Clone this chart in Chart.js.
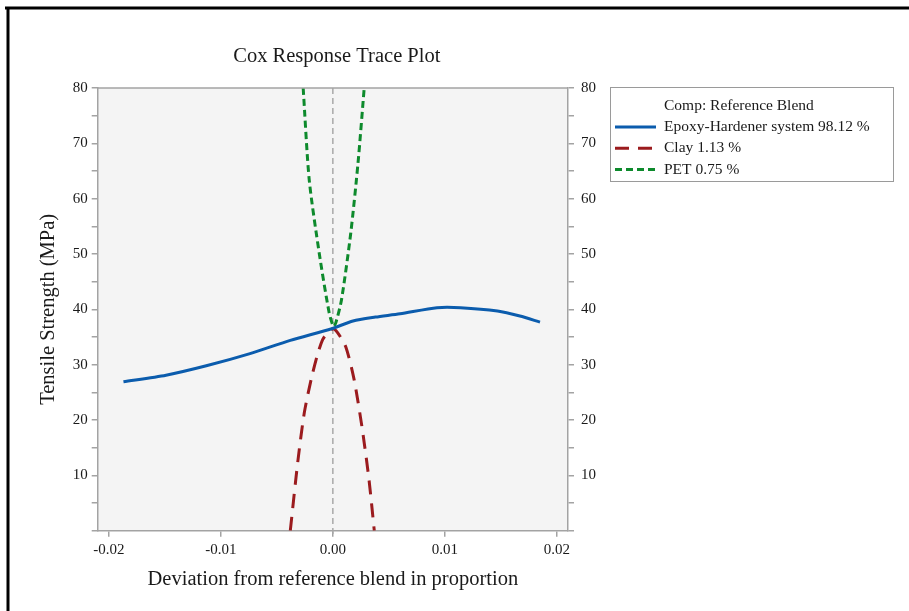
<!DOCTYPE html>
<html>
<head>
<meta charset="utf-8">
<script src="https://cdn.jsdelivr.net/npm/chart.js@4"></script>
<style>
  html, body { margin: 0; padding: 0; background: #fff; }
  #wrap { width: 909px; height: 611px; }
</style>
</head>
<body>
<div id="wrap"><canvas id="trace" width="909" height="611"></canvas></div>
<script>
// values
const seriesLabels = ['Epoxy-Hardener system 98.12 %', 'Clay 1.13 %', 'PET 0.75 %'];
const legendTitle = 'Comp: Reference Blend';

const epoxyX = [-0.0187, -0.0149, -0.0113, -0.0074, -0.0038, -0.0001, 0.0018, 0.0038, 0.0060, 0.0093, 0.0114, 0.0147, 0.0167, 0.0185];
const epoxyY = [26.9, 28.1, 29.8, 32.0, 34.4, 36.5, 37.9, 38.6, 39.2, 40.3, 40.3, 39.7, 38.8, 37.7];

const clayX = [-0.0038, -0.00314, -0.00255, -0.0018, -0.00092, 0.0, 0.00042, 0.00116, 0.0019, 0.00264, 0.00323, 0.0037];
const clayY = [0, 12.3, 21.3, 28.5, 34.5, 36.5, 35.8, 33.2, 27.3, 18.2, 9.2, 0];

const petX = [-0.00265, -0.00211, -0.00122, -0.00033, 0.00006, 0.00027, 0.00077, 0.0016, 0.00225, 0.0028];
const petY = [80, 63.4, 50.2, 39.4, 36.9, 37.6, 41.7, 53.8, 66.5, 80];

const xTickValues = [-0.02, -0.01, 0, 0.01, 0.02];
const yTickLabels = [10, 20, 30, 40, 50, 60, 70, 80];

function pts(xs, ys) {
    return xs.map((x, i) => ({ x: x, y: ys[i] }));
}

Chart.defaults.font.family = "'Liberation Serif', 'DejaVu Serif', serif";
Chart.defaults.color = '#1a1a1a';

const gray = '#a3a3a3';

const framePlugin = {
    id: 'frame',
    beforeDraw(chart) {
        const ctx = chart.ctx;
        const a = chart.chartArea;
        ctx.save();
        ctx.fillStyle = '#fff';
        ctx.fillRect(0, 0, chart.width, chart.height);
        ctx.strokeStyle = '#000';
        ctx.lineWidth = 3;
        ctx.beginPath();
        ctx.moveTo(5, 8);
        ctx.lineTo(chart.width, 8);
        ctx.moveTo(8, 8);
        ctx.lineTo(8, chart.height);
        ctx.stroke();
        ctx.fillStyle = '#f4f4f4';
        ctx.fillRect(a.left, a.top, a.right - a.left, a.bottom - a.top);
        // title
        ctx.fillStyle = '#1a1a1a';
        ctx.font = "20.5px 'Liberation Serif'";
        ctx.textAlign = 'center';
        ctx.textBaseline = 'middle';
        ctx.fillText('Cox Response Trace Plot', (a.left + a.right) / 2 + 4, 57);
        ctx.restore();
    },
    beforeDatasetsDraw(chart) {
        // reference line at zero deviation
        const ctx = chart.ctx;
        const a = chart.chartArea;
        const x0 = chart.scales.x.getPixelForValue(0);
        ctx.save();
        ctx.strokeStyle = '#a8a8a8';
        ctx.lineWidth = 1.5;
        ctx.setLineDash([6, 4]);
        ctx.beginPath();
        ctx.moveTo(x0, a.top);
        ctx.lineTo(x0, a.bottom + 6);
        ctx.stroke();
        ctx.restore();
    },
    afterDraw(chart) {
        const ctx = chart.ctx;
        const a = chart.chartArea;
        ctx.save();
        ctx.strokeStyle = gray;
        ctx.lineWidth = 1.5;
        ctx.beginPath();
        ctx.moveTo(a.left, a.top);
        ctx.lineTo(a.right, a.top);
        ctx.stroke();

        // legend box
        const bx = 610.5, by = 87.5, bw = 283, bh = 94;
        ctx.lineWidth = 1;
        ctx.strokeStyle = '#9a9a9a';
        ctx.strokeRect(bx, by, bw, bh);
        ctx.font = "15.5px 'Liberation Serif'";
        ctx.fillStyle = '#1a1a1a';
        ctx.textAlign = 'left';
        ctx.textBaseline = 'middle';
        ctx.fillText(legendTitle, 664, 105.5);
        chart.data.datasets.forEach((ds, i) => {
            const y = 127 + i * 21.3;
            ctx.strokeStyle = ds.borderColor;
            ctx.lineWidth = ds.borderWidth;
            ctx.setLineDash(ds.borderDash || []);
            ctx.beginPath();
            ctx.moveTo(615, y);
            ctx.lineTo(656, y);
            ctx.stroke();
            ctx.setLineDash([]);
            ctx.fillText(ds.label, 664, y);
        });
        ctx.restore();
    }
};

const yTicks = {
    stepSize: 5,
    padding: 4,
    font: { size: 15 },
    callback: v => yTickLabels.includes(v) ? String(v) : ''
};

new Chart('trace', {
    type: 'line',
    data: {
        datasets: [{
            label: seriesLabels[0],
            data: pts(epoxyX, epoxyY),
            borderColor: '#0b5cad',
            borderWidth: 3,
            tension: 0.25,
            pointRadius: 0,
            clip: 0
        }, {
            label: seriesLabels[1],
            data: pts(clayX, clayY),
            borderColor: '#9b1b1e',
            borderWidth: 3,
            borderDash: [14, 9],
            tension: 0.25,
            pointRadius: 0,
            clip: 0
        }, {
            label: seriesLabels[2],
            data: pts(petX, petY),
            borderColor: '#0d8a2c',
            borderWidth: 3,
            borderDash: [7, 4],
            tension: 0.25,
            pointRadius: 0,
            clip: 0
        }]
    },
    plugins: [framePlugin],
    options: {
        responsive: false,
        animation: false,
        layout: { padding: { left: 20, top: 88, right: 301, bottom: 0 } },
        plugins: {
            legend: { display: false },
            tooltip: { enabled: false }
        },
        scales: {
            x: {
                type: 'linear',
                min: -0.021,
                max: 0.021,
                afterFit: s => { s.height = 80.3; },
                afterBuildTicks: s => { s.ticks = xTickValues.map(v => ({ value: v })); },
                ticks: {
                    padding: 4,
                    font: { size: 15 },
                    callback: v => v.toFixed(2)
                },
                grid: { drawOnChartArea: false, tickLength: 6, color: gray, lineWidth: 1.5 },
                border: { color: gray, width: 1.5 },
                title: {
                    display: true,
                    text: 'Deviation from reference blend in proportion',
                    font: { size: 20.5 },
                    padding: { top: 0, bottom: 19 }
                }
            },
            y: {
                position: 'left',
                min: 0,
                max: 80,
                afterFit: s => { s.width = 77.7; },
                ticks: yTicks,
                grid: { drawOnChartArea: false, tickLength: 6, color: gray, lineWidth: 1.5 },
                border: { color: gray, width: 1.5 },
                title: {
                    display: true,
                    text: 'Tensile Strength (MPa)',
                    font: { size: 20.5 },
                    padding: { top: 16, bottom: 0 }
                }
            },
            y2: {
                position: 'right',
                min: 0,
                max: 80,
                afterFit: s => { s.width = 40; },
                ticks: Object.assign({}, yTicks, { padding: 7 }),
                grid: { drawOnChartArea: false, tickLength: 6, color: gray, lineWidth: 1.5 },
                border: { color: gray, width: 1.5 }
            }
        }
    }
});
</script>
</body>
</html>
